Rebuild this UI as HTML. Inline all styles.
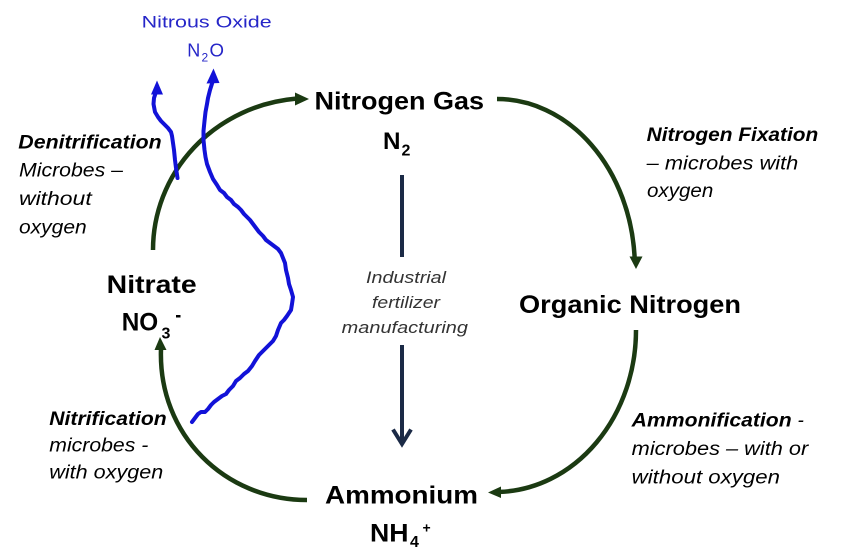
<!DOCTYPE html>
<html>
<head>
<meta charset="utf-8">
<style>
  html, body { margin:0; padding:0; background:#fff; }
  body { width:854px; height:553px; overflow:hidden; }
  svg { display:block; }
  text { font-family: "Liberation Sans", Arial, sans-serif; }
  .b { font-weight:bold; fill:#000; }
  .bi { font-weight:bold; font-style:italic; fill:#000; font-size:19px; }
  .i { font-style:italic; fill:#000; font-size:19px; }
  .fi { font-style:italic; fill:#333; font-size:17px; }
  .blue { fill:#2626c8; }
</style>
</head>
<body>
<svg width="854" height="553" viewBox="0 0 854 553" xmlns="http://www.w3.org/2000/svg">
  <rect width="854" height="553" fill="#fff"/>

  <!-- Green cycle arrows -->
  <g fill="none" stroke="#1b3a12" stroke-width="4.5" stroke-linecap="butt">
    <path d="M 153 250 A 157 152 0 0 1 296 98.6"/>
    <path d="M 497 99 A 138 169 0 0 1 634.6 257"/>
    <path d="M 636 330 A 141 162 0 0 1 500 491.9"/>
    <path d="M 307 500 C 225 500 158 435 161 349"/>
  </g>
  <g fill="#1b3a12">
    <polygon points="309,99 295,92.5 295,105.5"/>
    <polygon points="636,269 629.5,256.5 642.5,256.5"/>
    <polygon points="488,492.5 501,486.5 501,498"/>
    <polygon points="160,337 154.5,350 166.5,350"/>
  </g>

  <!-- Industrial fertilizer arrow -->
  <g stroke="#1b2a46" stroke-width="4" fill="none" stroke-linecap="butt">
    <line x1="402" y1="175" x2="402" y2="257"/>
    <line x1="402" y1="345" x2="402" y2="443"/>
    <polyline points="393,429.5 402,444 411,429.5" stroke-linejoin="miter"/>
  </g>

  <!-- Blue nitrous oxide lines -->
  <g fill="none" stroke="#1212d8" stroke-width="4" stroke-linejoin="round" stroke-linecap="round">
    <polyline points="177.5,178 176,168 175,160 174,150 173,143 172,136 171,132 168,128 165,125 161,121 158,117 155,112 153.5,104 154,98 156,92"/>
    <polyline points="212.5,82 210,90 208,98 207,104 205.5,112 204.5,121 203.5,131 203.5,140 204.5,150 205.5,157 207,164 210,172 213,179 217,185 220,190 224,193 227,197 231,200 234,204 238,207 241,210 244,214 247,217 250,220 253,224 256,228 259,232 263,236 266,240 270,243 274,246 278,249 281,253 283,258 285,263 286,270 288,278 289,284 291,290 293,297 292,304 291,310 287,316 284,320 281,323 278,330 276,336 273,341 268,346 264,350 259,355 255,361 252,366 248,371 244,374 240,378 236,381 233,386 229,390 226,394 222,396 218,399 214,402 211,405 208,409 205,412 201,412 198,414 195,418 192,422"/>
  </g>
  <g fill="#1212d8">
    <polygon points="157,80.5 151,94.5 163,94.5"/>
    <polygon points="213.5,68.5 206.5,83.5 219.5,83"/>
  </g>

  <!-- Nitrous Oxide label -->
  <text class="blue" x="141.7" y="27.3" font-size="17" textLength="130" lengthAdjust="spacingAndGlyphs">Nitrous Oxide</text>
  <text class="blue" x="187.3" y="56.7" font-size="18" textLength="13" lengthAdjust="spacingAndGlyphs">N</text>
  <text class="blue" x="201.5" y="61.5" font-size="12">2</text>
  <text class="blue" x="209.5" y="56.7" font-size="18" textLength="14.5" lengthAdjust="spacingAndGlyphs">O</text>

  <!-- Main nodes -->
  <text class="b" x="314.5" y="109.5" font-size="25" textLength="169.5" lengthAdjust="spacingAndGlyphs">Nitrogen Gas</text>
  <text class="b" x="383" y="149" font-size="24" textLength="17.5" lengthAdjust="spacingAndGlyphs">N</text>
  <text class="b" x="401.5" y="155.5" font-size="16">2</text>

  <text class="b" x="519" y="313" font-size="25" textLength="222" lengthAdjust="spacingAndGlyphs">Organic Nitrogen</text>

  <text class="b" x="325" y="503.3" font-size="25" textLength="153" lengthAdjust="spacingAndGlyphs">Ammonium</text>
  <text class="b" x="370" y="541.7" font-size="25" textLength="38.5" lengthAdjust="spacingAndGlyphs">NH</text>
  <text class="b" x="410" y="547" font-size="16">4</text>
  <text class="b" x="422.5" y="532.5" font-size="14">+</text>

  <text class="b" x="106.7" y="293" font-size="25" textLength="90" lengthAdjust="spacingAndGlyphs">Nitrate</text>
  <text class="b" x="121.7" y="330.7" font-size="25" textLength="36.5" lengthAdjust="spacingAndGlyphs">NO</text>
  <text class="b" x="161.5" y="338.3" font-size="16">3</text>
  <rect x="176" y="315" width="4.5" height="2.5" fill="#000"/>

  <!-- Fertilizer text -->
  <text class="fi" x="366" y="283" textLength="80" lengthAdjust="spacingAndGlyphs">Industrial</text>
  <text class="fi" x="372" y="308" textLength="68" lengthAdjust="spacingAndGlyphs">fertilizer</text>
  <text class="fi" x="341.7" y="333" textLength="126.3" lengthAdjust="spacingAndGlyphs">manufacturing</text>

  <!-- Denitrification -->
  <text class="bi" x="18.3" y="148.3" textLength="143.4" lengthAdjust="spacingAndGlyphs">Denitrification</text>
  <text class="i" x="19" y="176.7" textLength="104" lengthAdjust="spacingAndGlyphs">Microbes –</text>
  <text class="i" x="19" y="205" textLength="72.7" lengthAdjust="spacingAndGlyphs">without</text>
  <text class="i" x="19" y="233.3" textLength="67.7" lengthAdjust="spacingAndGlyphs">oxygen</text>

  <!-- Nitrification -->
  <text class="bi" x="49.3" y="425" textLength="117.4" lengthAdjust="spacingAndGlyphs">Nitrification</text>
  <text class="i" x="49.3" y="451.7" textLength="99" lengthAdjust="spacingAndGlyphs">microbes -</text>
  <text class="i" x="49.3" y="478.3" textLength="114" lengthAdjust="spacingAndGlyphs">with oxygen</text>

  <!-- Nitrogen Fixation -->
  <text class="bi" x="646.7" y="141" textLength="171.6" lengthAdjust="spacingAndGlyphs">Nitrogen Fixation</text>
  <text class="i" x="646.7" y="169.5" textLength="151.6" lengthAdjust="spacingAndGlyphs">– microbes with</text>
  <text class="i" x="647" y="197" textLength="66.3" lengthAdjust="spacingAndGlyphs">oxygen</text>

  <!-- Ammonification -->
  <text class="bi" x="631.7" y="426.7" textLength="160" lengthAdjust="spacingAndGlyphs">Ammonification</text>
  <text class="i" x="797.5" y="426.7">-</text>
  <text class="i" x="631.7" y="455" textLength="176.6" lengthAdjust="spacingAndGlyphs">microbes – with or</text>
  <text class="i" x="631.7" y="483.3" textLength="148.3" lengthAdjust="spacingAndGlyphs">without oxygen</text>
</svg>
</body>
</html>
